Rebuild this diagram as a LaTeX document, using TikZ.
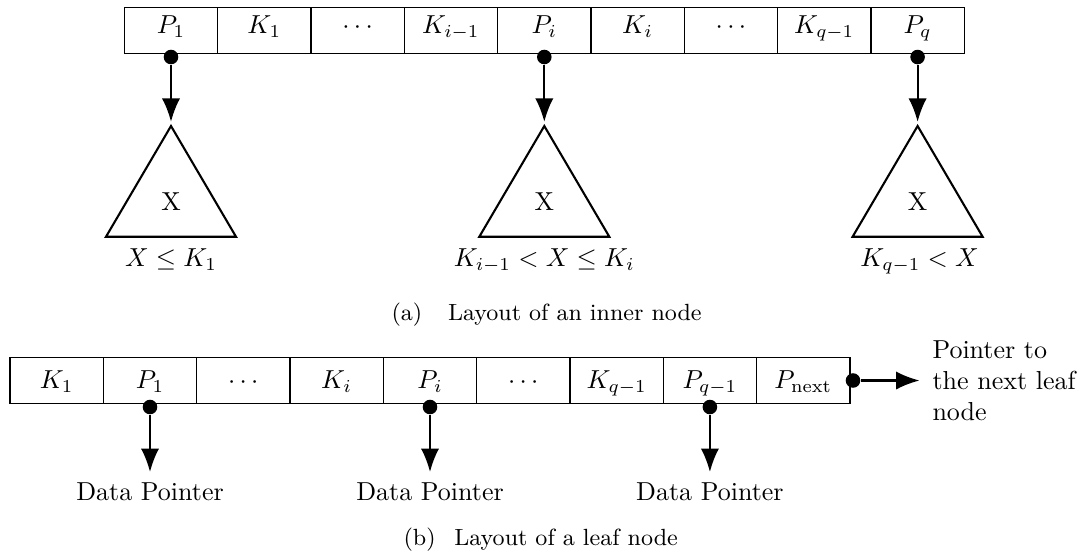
\documentclass[tikz,border=0pt]{standalone}
\usetikzlibrary{arrows.meta}
\begin{document}
\begin{tikzpicture}[x=0.3846pt,y=-0.3846pt,
  cellA/.style={draw, line width=0.5pt, minimum width=35.9pt, minimum height=17.7pt,
                inner sep=0pt, text height=7pt, text depth=4.7pt},
  cellB/.style={cellA, text depth=0.8pt},
  ptr/.style={line width=0.8pt, -{Latex[length=9pt,width=7pt]}},
  dotnode/.style={circle, fill, inner sep=0pt, minimum size=5.6pt},
  subtree/.style={line width=0.8pt},
  lbl/.style={anchor=base, inner sep=0pt},
  capt/.style={anchor=base west, inner sep=0pt, font=\small}]
\useasboundingbox (0,0) rectangle (1086,559);

% ---- inner node ----
\node[cellA] (t1) at (171.0,30.3) {$P_1$};
\node[cellA] (t2) at (264.3,30.3) {$K_1$};
\node[cellA] (t3) at (357.6,30.3) {$\cdots$};
\node[cellA] (t4) at (450.9,30.3) {$K_{i-1}$};
\node[cellA] (t5) at (544.3,30.3) {$P_i$};
\node[cellA] (t6) at (637.6,30.3) {$K_i$};
\node[cellA] (t7) at (730.9,30.3) {$\cdots$};
\node[cellA] (t8) at (824.3,30.3) {$K_{q-1}$};
\node[cellA] (t9) at (917.6,30.3) {$P_q$};

% child pointers and subtrees
\foreach \n/\x in {1/171.0, 2/544.3, 3/917.6} {
  \node[dotnode] (td\n) at (\x,57) {};
  \coordinate (apex\n) at (\x,126);
  \draw[ptr, shorten >=1.6pt] (td\n) -- (apex\n);
  \draw[subtree] (apex\n) -- (\x-65,236.7) -- (\x+65,236.7) -- cycle;
  \node[lbl] (tx\n) at (\x,210) {X};
}
\node[lbl] (r1) at (171.0,266.7) {$X \le K_1$};
\node[lbl] (r2) at (544.3,266.7) {$K_{i-1} < X \le K_i$};
\node[lbl] (r3) at (919.5,266.7) {$K_{q-1} < X$};

\node[capt] (capa) at (391,320) {(a)\hspace{1.1em}Layout of an inner node};

% ---- leaf node ----
\node[cellB] (b1) at (56.7,380.3) {$K_1$};
\node[cellB] (b2) at (150.0,380.3) {$P_1$};
\node[cellB] (b3) at (243.3,380.3) {$\cdots$};
\node[cellB] (b4) at (336.6,380.3) {$K_i$};
\node[cellB] (b5) at (430.0,380.3) {$P_i$};
\node[cellB] (b6) at (523.3,380.3) {$\cdots$};
\node[cellB] (b7) at (616.6,380.3) {$K_{q-1}$};
\node[cellB] (b8) at (709.9,380.3) {$P_{q-1}$};
\node[cellB] (b9) at (803.3,380.3) {$P_{\mathrm{next}}$};

\foreach \n/\x in {1/150.0, 2/430.0, 3/709.9} {
  \node[dotnode] (bd\n) at (\x,407) {};
  \coordinate (bt\n) at (\x,472);
  \draw[ptr] (bd\n) -- (bt\n);
  \node[lbl] (dp\n) at (\x,500) {Data Pointer};
}

% link to the next leaf
\node[dotnode] (nd) at (853,380.5) {};
\node[anchor=west, inner sep=0pt, align=left] (note) at (932,380.5)
  {Pointer to\\the next leaf\\node};
\draw[ptr, shorten >=4.8pt] (nd) -- (note.west);

\node[capt] (capb) at (403,545) {(b)\hspace{0.8em}Layout of a leaf node};
\end{tikzpicture}
\end{document}
